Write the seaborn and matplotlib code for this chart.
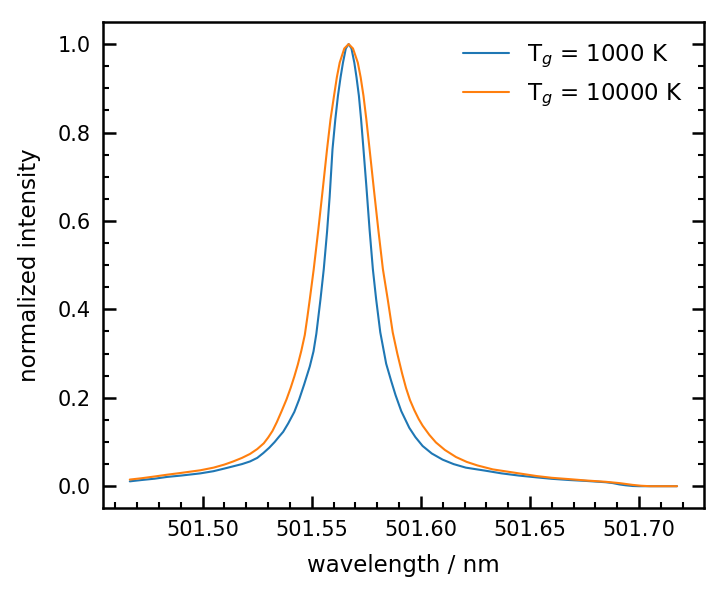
import numpy as np
import pandas as pd
import matplotlib
matplotlib.use("Agg")
import matplotlib.pyplot as plt
import seaborn as sns

# values
wl_1000 = [501.4666, 501.4720, 501.4780, 501.4837, 501.4900, 501.4989, 501.5050,
           501.5100, 501.5140, 501.5180, 501.5217, 501.5250, 501.5278, 501.5305,
           501.5330, 501.5350, 501.5369, 501.5392, 501.5420, 501.5442, 501.5465,
           501.5491, 501.5508, 501.5521, 501.5540, 501.5555, 501.5570, 501.5582,
           501.5595, 501.5608, 501.5620, 501.5632, 501.5643, 501.5656, 501.5669,
           501.5682, 501.5695, 501.5705, 501.5716, 501.5726, 501.5737, 501.5750,
           501.5765, 501.5780, 501.5795, 501.5814, 501.5841, 501.5864, 501.5884,
           501.5910, 501.5947, 501.5975, 501.6008, 501.6050, 501.6100, 501.6150,
           501.6206, 501.6297, 501.6370, 501.6450, 501.6530, 501.6600, 501.6680,
           501.6755, 501.6847, 501.6880, 501.6910, 501.6940, 501.6970, 501.7000,
           501.7174]
int_1000 = [0.011, 0.014, 0.017, 0.021, 0.024, 0.029, 0.034,
            0.040, 0.045, 0.050, 0.056, 0.064, 0.075, 0.087,
            0.100, 0.112, 0.123, 0.142, 0.168, 0.196, 0.230,
            0.271, 0.305, 0.345, 0.423, 0.491, 0.575, 0.655,
            0.762, 0.830, 0.883, 0.925, 0.958, 0.990, 1.000,
            0.990, 0.958, 0.925, 0.883, 0.830, 0.762, 0.680,
            0.580, 0.491, 0.423, 0.348, 0.277, 0.238, 0.206,
            0.170, 0.132, 0.111, 0.091, 0.074, 0.060, 0.050,
            0.042, 0.035, 0.029, 0.024, 0.020, 0.0167, 0.014,
            0.012, 0.009, 0.007, 0.004, 0.002, 0.0005, 0.0,
            0.0]

wl_10000 = [501.4666, 501.4720, 501.4780, 501.4837, 501.4900, 501.4989, 501.5050,
            501.5100, 501.5140, 501.5180, 501.5217, 501.5250, 501.5280, 501.5300,
            501.5320, 501.5340, 501.5362, 501.5384, 501.5403, 501.5420, 501.5436,
            501.5452, 501.5468, 501.5480, 501.5491, 501.5509, 501.5530, 501.5550,
            501.5570, 501.5586, 501.5602, 501.5615, 501.5628, 501.5649, 501.5669,
            501.5689, 501.5711, 501.5724, 501.5737, 501.5750, 501.5765, 501.5785,
            501.5805, 501.5826, 501.5848, 501.5871, 501.5892, 501.5914, 501.5932,
            501.5950, 501.5970, 501.5990, 501.6008, 501.6039, 501.6069, 501.6110,
            501.6161, 501.6210, 501.6259, 501.6330, 501.6450, 501.6530, 501.6600,
            501.6680, 501.6755, 501.6847, 501.6910, 501.6970, 501.7010, 501.7050,
            501.7174]
int_10000 = [0.015, 0.018, 0.022, 0.026, 0.030, 0.036, 0.042,
             0.049, 0.056, 0.064, 0.073, 0.084, 0.097, 0.110,
             0.125, 0.145, 0.170, 0.196, 0.222, 0.248, 0.275,
             0.306, 0.342, 0.383, 0.423, 0.491, 0.580, 0.670,
             0.762, 0.830, 0.883, 0.925, 0.958, 0.990, 1.000,
             0.990, 0.958, 0.925, 0.883, 0.830, 0.762, 0.670,
             0.580, 0.491, 0.423, 0.348, 0.300, 0.255, 0.222,
             0.195, 0.172, 0.152, 0.137, 0.116, 0.099, 0.082,
             0.066, 0.055, 0.047, 0.038, 0.029, 0.023, 0.019,
             0.016, 0.013, 0.010, 0.007, 0.003, 0.001, 0.0,
             0.0]

labels = [r"T$_g$ = 1000 K", r"T$_g$ = 10000 K"]

sns.set_style("ticks")
plt.rcParams.update({
    "font.family": ["DejaVu Sans"],
    "font.size": 10,
    "text.color": "black",
    "axes.labelcolor": "black",
    "axes.edgecolor": "black",
    "xtick.color": "black",
    "ytick.color": "black",
    "xtick.direction": "in",
    "ytick.direction": "in",
    "axes.linewidth": 1.2,
})

df = pd.concat([
    pd.DataFrame({"wl": wl_1000, "I": int_1000, "T": labels[0]}),
    pd.DataFrame({"wl": wl_10000, "I": int_10000, "T": labels[1]}),
])

fig = plt.figure(figsize=(727 / 150, 599 / 150), dpi=150)
ax = fig.add_axes([0.141, 0.1514, 0.8278, 0.8119])
sns.lineplot(data=df, x="wl", y="I", hue="T", palette=["#1f77b4", "#ff7f0e"],
             linewidth=1.0, sort=False, estimator=None, ax=ax)

ax.set_xlabel("wavelength / nm", fontsize=11, labelpad=7)
ax.set_ylabel("normalized intensity", fontsize=11, labelpad=8)
ax.set_xticks([501.50, 501.55, 501.60, 501.65, 501.70])
ax.set_xticks(np.arange(501.46, 501.73, 0.01), minor=True)
ax.set_yticks([0.0, 0.2, 0.4, 0.6, 0.8, 1.0])
ax.set_yticks(np.arange(0.0, 1.01, 0.05), minor=True)
ax.set_xlim(501.4541, 501.7299)
ax.set_ylim(-0.05, 1.05)
ax.xaxis.set_major_formatter(matplotlib.ticker.FormatStrFormatter("%.2f"))
ax.yaxis.set_major_formatter(matplotlib.ticker.FormatStrFormatter("%.1f"))
ax.tick_params(which="major", length=6, width=1.2, pad=5.5, right=True, top=False)
ax.tick_params(which="minor", length=3, width=1.0, right=True, top=False)
for s in ax.spines.values():
    s.set_visible(True)
    s.set_linewidth(1.2)

ax.legend(title=None, frameon=False, loc="upper right", fontsize=11)

fig.savefig("out.png", dpi=150)
